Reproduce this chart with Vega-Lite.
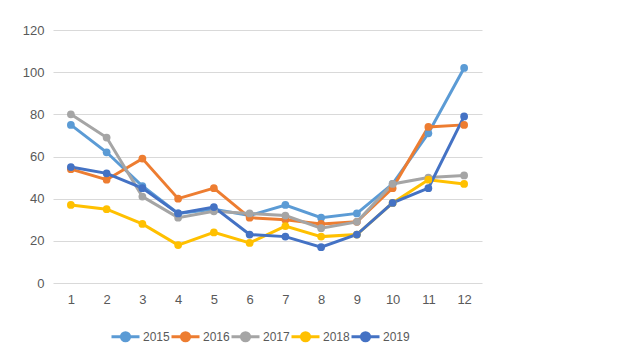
{
  "$schema": "https://vega.github.io/schema/vega-lite/v6.json",
  "width": 429,
  "height": 253,
  "autosize": {"type": "none"},
  "padding": {"left": 53, "top": 30, "right": 143, "bottom": 79},
  "background": "white",
  "config": {
    "view": {"stroke": null},
    "font": "Liberation Sans",
    "axis": {"labelColor": "#595959", "labelFontSize": 13, "ticks": false, "domain": false, "title": null}
  },
  "data": {
    "values": [
      {"month": 1, "year": "2015", "value": 75},
      {"month": 2, "year": "2015", "value": 62},
      {"month": 3, "year": "2015", "value": 46},
      {"month": 4, "year": "2015", "value": 33},
      {"month": 5, "year": "2015", "value": 35},
      {"month": 6, "year": "2015", "value": 32},
      {"month": 7, "year": "2015", "value": 37},
      {"month": 8, "year": "2015", "value": 31},
      {"month": 9, "year": "2015", "value": 33},
      {"month": 10, "year": "2015", "value": 47},
      {"month": 11, "year": "2015", "value": 71},
      {"month": 12, "year": "2015", "value": 102},
      {"month": 1, "year": "2016", "value": 54},
      {"month": 2, "year": "2016", "value": 49},
      {"month": 3, "year": "2016", "value": 59},
      {"month": 4, "year": "2016", "value": 40},
      {"month": 5, "year": "2016", "value": 45},
      {"month": 6, "year": "2016", "value": 31},
      {"month": 7, "year": "2016", "value": 30},
      {"month": 8, "year": "2016", "value": 28},
      {"month": 9, "year": "2016", "value": 29},
      {"month": 10, "year": "2016", "value": 45},
      {"month": 11, "year": "2016", "value": 74},
      {"month": 12, "year": "2016", "value": 75},
      {"month": 1, "year": "2017", "value": 80},
      {"month": 2, "year": "2017", "value": 69},
      {"month": 3, "year": "2017", "value": 41},
      {"month": 4, "year": "2017", "value": 31},
      {"month": 5, "year": "2017", "value": 34},
      {"month": 6, "year": "2017", "value": 33},
      {"month": 7, "year": "2017", "value": 32},
      {"month": 8, "year": "2017", "value": 26},
      {"month": 9, "year": "2017", "value": 29},
      {"month": 10, "year": "2017", "value": 47},
      {"month": 11, "year": "2017", "value": 50},
      {"month": 12, "year": "2017", "value": 51},
      {"month": 1, "year": "2018", "value": 37},
      {"month": 2, "year": "2018", "value": 35},
      {"month": 3, "year": "2018", "value": 28},
      {"month": 4, "year": "2018", "value": 18},
      {"month": 5, "year": "2018", "value": 24},
      {"month": 6, "year": "2018", "value": 19},
      {"month": 7, "year": "2018", "value": 27},
      {"month": 8, "year": "2018", "value": 22},
      {"month": 9, "year": "2018", "value": 23},
      {"month": 10, "year": "2018", "value": 38},
      {"month": 11, "year": "2018", "value": 49},
      {"month": 12, "year": "2018", "value": 47},
      {"month": 1, "year": "2019", "value": 55},
      {"month": 2, "year": "2019", "value": 52},
      {"month": 3, "year": "2019", "value": 45},
      {"month": 4, "year": "2019", "value": 33},
      {"month": 5, "year": "2019", "value": 36},
      {"month": 6, "year": "2019", "value": 23},
      {"month": 7, "year": "2019", "value": 22},
      {"month": 8, "year": "2019", "value": 17},
      {"month": 9, "year": "2019", "value": 23},
      {"month": 10, "year": "2019", "value": 38},
      {"month": 11, "year": "2019", "value": 45},
      {"month": 12, "year": "2019", "value": 79}
    ]
  },
  "mark": {"type": "line", "strokeWidth": 3, "point": {"size": 60, "filled": true}},
  "encoding": {
    "x": {
      "field": "month", "type": "ordinal",
      "scale": {"type": "point", "padding": 0.5},
      "axis": {"labelAngle": 0, "labelPadding": 10, "grid": false}
    },
    "y": {
      "field": "value", "type": "quantitative",
      "scale": {"domain": [0, 120], "nice": false},
      "axis": {"values": [0, 20, 40, 60, 80, 100, 120], "gridColor": "#D9D9D9", "gridWidth": 1, "labelPadding": 9}
    },
    "color": {
      "field": "year", "type": "nominal",
      "scale": {"domain": ["2015", "2016", "2017", "2018", "2019"], "range": ["#5B9BD5", "#ED7D31", "#A5A5A5", "#FFC000", "#4472C4"]},
      "legend": {
        "title": null,
        "orient": "none",
        "direction": "horizontal",
        "legendX": 57,
        "legendY": 291,
        "symbolType": "M-1,0L1,0M-0.29,0A0.29,0.29 0 1,0 0.29,0A0.29,0.29 0 1,0 -0.29,0Z",
        "symbolSize": 784,
        "symbolStrokeWidth": 3,
        "labelFontSize": 12,
        "labelColor": "#595959",
        "labelOffset": 2,
        "columnPadding": -5,
        "encode": {"symbols": {"update": {"fill": {"scale": "color", "field": "value"}, "stroke": {"scale": "color", "field": "value"}}}}
      }
    }
  }
}
